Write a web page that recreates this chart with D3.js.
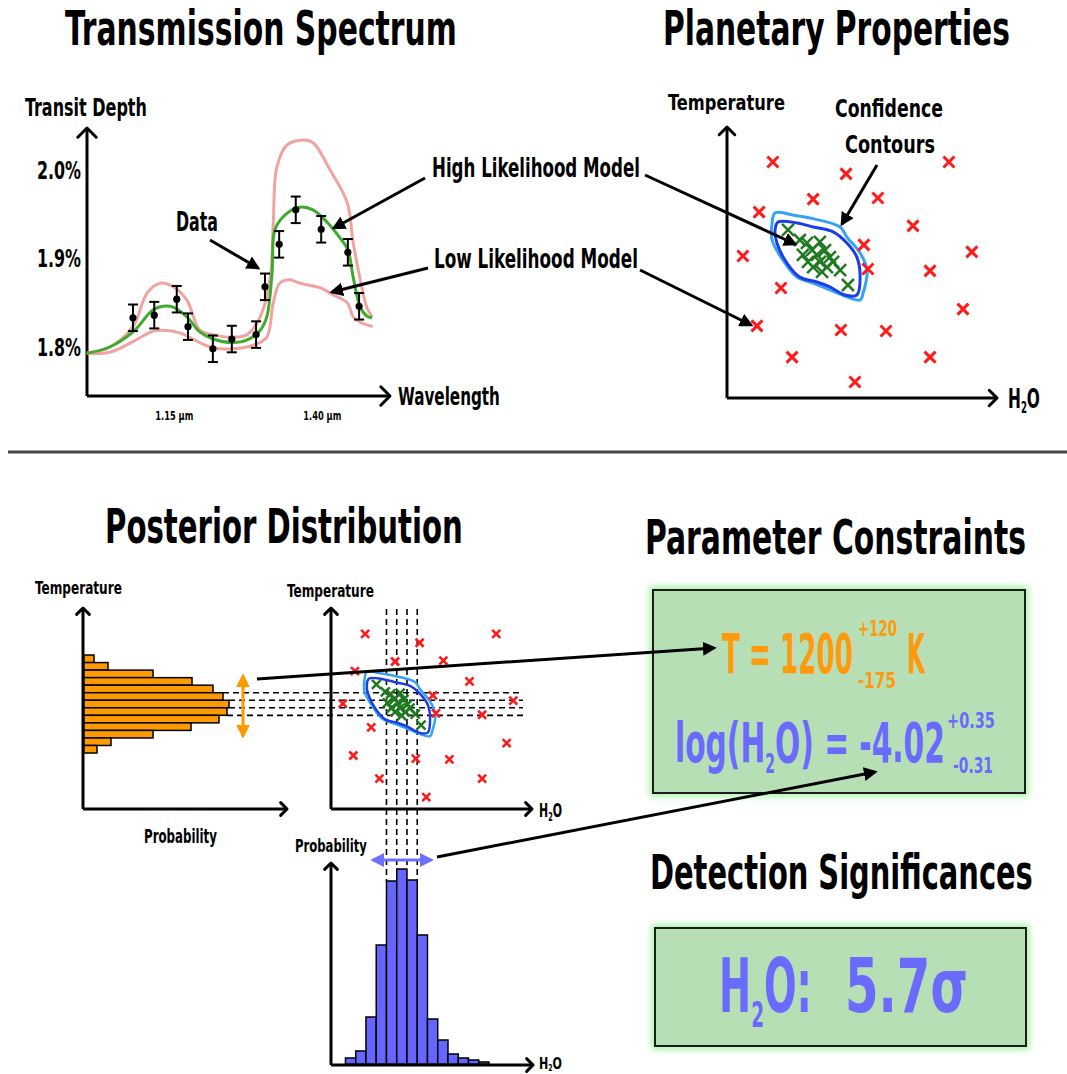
<!DOCTYPE html>
<html>
<head>
<meta charset="utf-8">
<script src="https://cdn.jsdelivr.net/npm/d3@7"></script>
<style>
  body { margin: 0; background: #fff; }
  svg { display: block; }
  text { font-family: "DejaVu Sans Condensed", "Liberation Sans Narrow", "DejaVu Sans", sans-serif; font-weight: bold; }
</style>
</head>
<body>
<svg id="fig" width="1067" height="1074"></svg>
<script>
// ---------- Transmission spectrum (wavelength in µm, transit depth in %) ----------
const obsWavelength = [1.081, 1.117, 1.155, 1.174, 1.216, 1.248, 1.289, 1.304, 1.328, 1.356, 1.399, 1.444, 1.463];
const obsDepth      = [1.833, 1.836, 1.854, 1.823, 1.798, 1.809, 1.814, 1.868, 1.916, 1.955, 1.933, 1.907, 1.846];
const obsError      = [0.015, 0.015, 0.015, 0.015, 0.015, 0.015, 0.015, 0.015, 0.015, 0.015, 0.015, 0.015, 0.015];

const highModelWavelength = [1.003, 1.042, 1.081, 1.115, 1.132, 1.149, 1.172, 1.194, 1.216, 1.250, 1.274, 1.296, 1.307, 1.316, 1.321, 1.341, 1.363, 1.385, 1.409, 1.431, 1.444, 1.453, 1.465, 1.476, 1.485];
const highModelDepth      = [1.793, 1.800, 1.817, 1.842, 1.846, 1.845, 1.834, 1.817, 1.809, 1.805, 1.808, 1.819, 1.834, 1.884, 1.933, 1.951, 1.958, 1.955, 1.941, 1.923, 1.910, 1.879, 1.845, 1.835, 1.833];

const lowModelAWavelength = [1.003, 1.042, 1.081, 1.105, 1.127, 1.149, 1.172, 1.194, 1.216, 1.250, 1.274, 1.296, 1.313, 1.318, 1.324, 1.341, 1.368, 1.385, 1.414, 1.443, 1.453, 1.465, 1.476, 1.485];
const lowModelADepth      = [1.793, 1.800, 1.823, 1.861, 1.872, 1.868, 1.853, 1.819, 1.814, 1.811, 1.814, 1.834, 1.879, 1.940, 2.003, 2.028, 2.034, 2.031, 2.000, 1.963, 1.918, 1.876, 1.845, 1.834];

const lowModelBWavelength = [1.003, 1.042, 1.081, 1.115, 1.132, 1.160, 1.194, 1.216, 1.250, 1.284, 1.307, 1.318, 1.329, 1.346, 1.363, 1.397, 1.419, 1.443, 1.453, 1.465, 1.486];
const lowModelBDepth      = [1.793, 1.794, 1.806, 1.818, 1.819, 1.816, 1.805, 1.799, 1.798, 1.802, 1.811, 1.850, 1.872, 1.876, 1.872, 1.867, 1.859, 1.850, 1.834, 1.828, 1.823];

const depthTicks = [1.8, 1.9, 2.0];
const wavelengthTicks = [1.15, 1.40];

// ---------- Parameter space (H2O, temperature in arbitrary 0-10 units) ----------
const priorH2O  = [1.70, 4.41, 8.22, 3.19, 5.59, 1.19, 6.89, 5.07, 9.07, 0.59, 5.22, 7.52, 2.00, 8.74, 1.11, 4.22, 5.89, 2.41, 7.52, 4.74];
const priorTemp = [8.71, 8.27, 8.71, 7.34, 7.38, 6.86, 6.35, 5.65, 5.39, 5.24, 4.76, 4.69, 4.06, 3.28, 2.66, 2.51, 2.47, 1.51, 1.51, 0.59];

const postH2O  = [2.26, 2.70, 2.96, 3.44, 3.15, 3.63, 2.81, 3.33, 3.81, 3.00, 3.44, 3.93, 3.19, 3.70, 4.19, 3.52, 4.48];
const postTemp = [6.20, 5.83, 5.72, 5.76, 5.46, 5.46, 5.28, 5.28, 5.20, 5.02, 5.02, 5.02, 4.83, 4.83, 4.72, 4.65, 4.17];

const outerContourH2O  = [1.78, 2.44, 3.07, 4.19, 4.44, 4.93, 5.19, 5.04, 4.93, 4.44, 3.81, 3.19, 2.59, 2.07, 1.67, 1.67];
const outerContourTemp = [6.83, 6.75, 6.64, 6.31, 5.94, 5.35, 4.72, 3.87, 3.62, 3.73, 3.99, 4.24, 4.46, 5.09, 5.83, 6.46];
const innerContourH2O  = [1.89, 2.59, 3.19, 3.93, 4.44, 4.81, 4.93, 4.81, 4.37, 3.81, 3.33, 2.70, 2.22, 1.85, 1.78];
const innerContourTemp = [6.49, 6.46, 6.31, 6.13, 5.72, 5.20, 4.46, 3.80, 3.80, 4.10, 4.28, 4.46, 4.98, 5.72, 6.20];

// ---------- Marginal posteriors ----------
const tempHist = [11, 25, 70, 109, 130, 140, 146, 144, 136, 108, 70, 28, 14]; // top bin = hottest
const tempBinTop = 7.66, tempBinWidth = 0.375;
const tempInterval = [3.63, 6.62];

const h2oHist = [7, 14, 48, 120, 184, 196, 185, 130, 46, 25, 11, 7, 5, 3];
const h2oBinStart = 0.72, h2oBinWidth = 0.51;
const h2oInterval = [2.09, 4.98];

// ---------- Retrieved constraints ----------
const tempValue = 1200, tempUpper = 120, tempLower = 175;
const logH2OValue = -4.02, logH2OUpper = 0.35, logH2OLower = 0.31;
const h2oSignificance = 5.7;

// ====================================================================
const svg = d3.select("#fig");
const defs = svg.append("defs");

function headMarker(id, color) {
  defs.append("marker").attr("id", id)
    .attr("viewBox", "0 0 10 10").attr("refX", 8).attr("refY", 5)
    .attr("markerWidth", 4.6).attr("markerHeight", 4.6)
    .attr("orient", "auto-start-reverse")
    .append("path").attr("d", "M0,0L10,5L0,10Z").attr("fill", color);
}
headMarker("headK", "#000");
headMarker("headO", "#ff9900");
headMarker("headB", "#6f6fff");

const glow = defs.append("filter").attr("id", "glow")
  .attr("x", "-10%").attr("y", "-20%").attr("width", "120%").attr("height", "140%");
glow.append("feGaussianBlur").attr("stdDeviation", 3.5);

// text squeezed horizontally to span x0..x1, baseline at `base`
function label(parent, s, x0, x1, base, size, fill) {
  return richLabel(parent, [{ t: s, size }], x0, x1, base, fill);
}

// same, built from pieces with their own size and baseline shift (sub/superscripts)
function richLabel(parent, parts, x0, x1, base, fill) {
  const t = parent.append("text").attr("fill", fill || "#000");
  let shift = 0;
  parts.forEach(p => {
    const dy = (p.dy || 0) - shift;
    shift = p.dy || 0;
    t.append("tspan").attr("font-size", p.size).attr("dy", dy).text(p.t);
  });
  const w = t.node().getComputedTextLength();
  t.attr("transform", `translate(${x0},${base}) scale(${(x1 - x0) / w},1)`);
  return t;
}

// squeeze axis tick labels to a fixed width around their anchor
function squeezeTicks(sel, width, size) {
  sel.attr("font-size", size).attr("fill", "#000").each(function () {
    const x = +this.getAttribute("x") || 0;
    const w = this.getComputedTextLength();
    d3.select(this).attr("x", 0).attr("transform", `translate(${x},0) scale(${width / w},1)`);
  });
}

// axis line ending in an open chevron
function axisArrow(g, x1, y1, x2, y2, arm, width) {
  g.append("line").attr("x1", x1).attr("y1", y1).attr("x2", x2).attr("y2", y2)
    .attr("stroke", "#000").attr("stroke-width", width);
  const a = Math.atan2(y2 - y1, x2 - x1);
  const p = (da) => [x2 - arm * Math.cos(a + da), y2 - arm * Math.sin(a + da)];
  const l = p(Math.PI / 4), r = p(-Math.PI / 4);
  g.append("path").attr("d", `M${l[0]},${l[1]}L${x2},${y2}L${r[0]},${r[1]}`)
    .attr("fill", "none").attr("stroke", "#000").attr("stroke-width", width)
    .attr("stroke-linecap", "round").attr("stroke-linejoin", "round");
}

function pointer(x1, y1, x2, y2) {
  svg.append("line").attr("x1", x1).attr("y1", y1).attr("x2", x2).attr("y2", y2)
    .attr("stroke", "#000").attr("stroke-width", 3)
    .attr("marker-end", "url(#headK)");
}

const crossPath = (s) => `M${-s},${-s}L${s},${s}M${-s},${s}L${s},${-s}`;

// ---------------- Titles ----------------
label(svg, "Transmission Spectrum", 65, 457, 45, 48);
label(svg, "Planetary Properties", 663, 1010, 45, 48);
label(svg, "Posterior Distribution", 105, 463, 543, 48);
label(svg, "Parameter Constraints", 645, 1026, 554, 48);
label(svg, "Detection Significances", 650, 1033, 889, 48);

svg.append("line").attr("x1", 8).attr("x2", 1067).attr("y1", 452).attr("y2", 452)
  .attr("stroke", "#444").attr("stroke-width", 3);

// ---------------- Transmission spectrum panel ----------------
const spec = svg.append("g");
const xW = d3.scaleLinear([1.0, 1.5], [85, 381]);
const yD = d3.scaleLinear([1.8, 2.0], [347, 170]);

axisArrow(spec, 87, 396, 87, 128, 13, 3);
axisArrow(spec, 87, 396, 390, 396, 13, 3);

const yAx = spec.append("g").attr("transform", "translate(87,0)")
  .call(d3.axisLeft(yD).tickValues(depthTicks).tickSize(0).tickPadding(6)
    .tickFormat(d => d.toFixed(1) + "%"));
yAx.select(".domain").remove();
yAx.attr("font-family", null).attr("font-size", null);
squeezeTicks(yAx.selectAll("text"), 44, 25);

const xAx = spec.append("g").attr("transform", "translate(0,396)")
  .call(d3.axisBottom(xW).tickValues(wavelengthTicks).tickSize(0).tickPadding(15)
    .tickFormat(d => d.toFixed(2) + " µm"));
xAx.select(".domain").remove();
xAx.attr("font-family", null).attr("font-size", null);
squeezeTicks(xAx.selectAll("text"), 38, 13);

label(spec, "Transit Depth", 25, 147, 116, 24);
label(spec, "Wavelength", 398, 500, 405, 25);

const specLine = d3.line().x(d => xW(d[0])).y(d => yD(d[1])).curve(d3.curveCatmullRom.alpha(0.5));
spec.append("path").datum(d3.zip(lowModelAWavelength, lowModelADepth)).attr("d", specLine)
  .attr("fill", "none").attr("stroke", "#f0a4a0").attr("stroke-width", 3);
spec.append("path").datum(d3.zip(lowModelBWavelength, lowModelBDepth)).attr("d", specLine)
  .attr("fill", "none").attr("stroke", "#f0a4a0").attr("stroke-width", 3);
spec.append("path").datum(d3.zip(highModelWavelength, highModelDepth)).attr("d", specLine)
  .attr("fill", "none").attr("stroke", "#3faa2c").attr("stroke-width", 3);

const obs = spec.selectAll("g.obs").data(d3.range(obsWavelength.length)).join("g").attr("class", "obs");
obs.append("line")
  .attr("x1", i => xW(obsWavelength[i])).attr("x2", i => xW(obsWavelength[i]))
  .attr("y1", i => yD(obsDepth[i] - obsError[i])).attr("y2", i => yD(obsDepth[i] + obsError[i]))
  .attr("stroke", "#000").attr("stroke-width", 2);
[-1, 1].forEach(sgn => {
  obs.append("line")
    .attr("x1", i => xW(obsWavelength[i]) - 5).attr("x2", i => xW(obsWavelength[i]) + 5)
    .attr("y1", i => yD(obsDepth[i] + sgn * obsError[i])).attr("y2", i => yD(obsDepth[i] + sgn * obsError[i]))
    .attr("stroke", "#000").attr("stroke-width", 2);
});
obs.append("circle").attr("cx", i => xW(obsWavelength[i])).attr("cy", i => yD(obsDepth[i]))
  .attr("r", 3.6).attr("fill", "#000");

label(svg, "Data", 176, 218, 231, 27);
pointer(210, 240, 258, 268);
label(svg, "High Likelihood Model", 432, 640, 177, 27);
pointer(425, 178, 334, 228);
label(svg, "Low Likelihood Model", 434, 638, 268, 27);
pointer(428, 268, 332, 292);

// ---------------- Parameter space scatter ----------------
function scatterPanel(xs, ys, opt) {
  const g = svg.append("g");
  const [x0] = xs.range(), [y0] = ys.range();
  axisArrow(g, x0, y0, x0, ys.range()[1], opt.arm, 3);
  axisArrow(g, x0, y0, xs.range()[1], y0, opt.arm, 3);
  const line = d3.line().x(d => xs(d[0])).y(d => ys(d[1])).curve(d3.curveCatmullRomClosed.alpha(0.5));
  g.append("path").datum(d3.zip(outerContourH2O, outerContourTemp)).attr("d", line)
    .attr("fill", "none").attr("stroke", "#35a2f2").attr("stroke-width", opt.cw);
  g.append("path").datum(d3.zip(innerContourH2O, innerContourTemp)).attr("d", line)
    .attr("fill", "none").attr("stroke", "#1c3ee6").attr("stroke-width", opt.cw);
  g.selectAll("path.prior").data(d3.zip(priorH2O, priorTemp)).join("path").attr("class", "prior")
    .attr("transform", d => `translate(${xs(d[0])},${ys(d[1])})`)
    .attr("d", crossPath(opt.rs)).attr("stroke", "#ff1a1a").attr("stroke-width", opt.rw).attr("fill", "none");
  g.selectAll("path.post").data(d3.zip(postH2O, postTemp)).join("path").attr("class", "post")
    .attr("transform", d => `translate(${xs(d[0])},${ys(d[1])})`)
    .attr("d", crossPath(opt.gs)).attr("stroke", "#1f7a1f").attr("stroke-width", opt.gw).attr("fill", "none");
  return g;
}

const h2oParts = (big, small, drop) => [
  { t: "H", size: big }, { t: "2", size: small, dy: drop }, { t: "O", size: big }];

const xTR = d3.scaleLinear([0, 10], [727, 997]);
const yTR = d3.scaleLinear([0, 10], [398, 127]);
const tr = scatterPanel(xTR, yTR, { arm: 11, cw: 3, rs: 5.5, rw: 3, gs: 6, gw: 2.5 });
label(tr, "Temperature", 668, 785, 110, 22);
label(tr, "Confidence", 835, 943, 117, 25);
label(tr, "Contours", 845, 935, 153, 25);
richLabel(tr, h2oParts(27, 15, 5), 1008, 1040, 408);
pointer(877, 165, 842, 224);
pointer(645, 175, 795, 244);
pointer(640, 270, 751, 325);

// ---------------- Posterior distribution ----------------
const xM = d3.scaleLinear([0, 10], [331, 532]);
const yM = d3.scaleLinear([0, 10], [809, 608]);

// dashed guides (drawn first so marks sit on top)
const guides = svg.append("g").attr("stroke", "#000").attr("stroke-width", 1.6).attr("stroke-dasharray", "6,4");

const xP = d3.scaleLinear([0, 204], [83, 287]);
const yPr = d3.scaleLinear([0, 202], [1065, 863]);

[5, 6, 7, 8].forEach(i => {
  const t = tempBinTop - i * tempBinWidth;
  const reach = Math.max(tempHist[i - 1], tempHist[i]);
  guides.append("line").attr("x1", xP(reach)).attr("x2", 523).attr("y1", yM(t)).attr("y2", yM(t));
});
[4, 5, 6, 7].forEach(i => {
  const h = h2oBinStart + i * h2oBinWidth;
  const reach = Math.max(h2oHist[i - 1], h2oHist[i]);
  guides.append("line").attr("x1", xM(h)).attr("x2", xM(h)).attr("y1", 609).attr("y2", yPr(reach));
});

const mid = scatterPanel(xM, yM, { arm: 9, cw: 2.5, rs: 4, rw: 2.6, gs: 4.5, gw: 2.5 });
label(mid, "Temperature", 287, 374, 597, 18);
richLabel(mid, h2oParts(20, 12, 4), 539, 562, 817);

// temperature marginal (horizontal bars)
const left = svg.append("g");
axisArrow(left, 83, 809, 83, 608, 9, 3);
axisArrow(left, 83, 809, 287, 809, 9, 3);
left.selectAll("rect").data(tempHist).join("rect")
  .attr("x", xP(0) + 1)
  .attr("y", (d, i) => yM(tempBinTop - i * tempBinWidth))
  .attr("width", d => xP(d) - xP(0) - 1)
  .attr("height", yM(0) - yM(tempBinWidth))
  .attr("fill", "#ff9900").attr("stroke", "#000").attr("stroke-width", 1.5);
label(left, "Temperature", 35, 122, 594, 18);
label(left, "Probability", 144, 217, 843, 20);
left.append("line").attr("x1", 243).attr("x2", 243)
  .attr("y1", yM(tempInterval[0])).attr("y2", yM(tempInterval[1]))
  .attr("stroke", "#ff9900").attr("stroke-width", 3)
  .attr("marker-start", "url(#headO)").attr("marker-end", "url(#headO)");

// H2O marginal (vertical bars)
const bottom = svg.append("g");
axisArrow(bottom, 331, 1065, 331, 863, 9, 3);
axisArrow(bottom, 331, 1065, 533, 1065, 9, 3);
bottom.selectAll("rect").data(h2oHist).join("rect")
  .attr("x", (d, i) => xM(h2oBinStart + i * h2oBinWidth))
  .attr("y", d => yPr(d))
  .attr("width", xM(h2oBinWidth) - xM(0))
  .attr("height", d => yPr(0) - yPr(d) - 1)
  .attr("fill", "#6666ff").attr("stroke", "#000").attr("stroke-width", 1.5);
label(bottom, "Probability", 295, 367, 852, 18);
richLabel(bottom, h2oParts(16, 9, 2), 539, 562, 1069);
bottom.append("line").attr("y1", 860).attr("y2", 860)
  .attr("x1", xM(h2oInterval[0])).attr("x2", xM(h2oInterval[1]))
  .attr("stroke", "#6f6fff").attr("stroke-width", 3)
  .attr("marker-start", "url(#headB)").attr("marker-end", "url(#headB)");

// ---------------- Result boxes ----------------
function resultBox(x, y, w, h) {
  svg.append("rect").attr("x", x).attr("y", y).attr("width", w).attr("height", h)
    .attr("fill", "none").attr("stroke", "#90ee90").attr("stroke-width", 6).attr("filter", "url(#glow)");
  svg.append("rect").attr("x", x).attr("y", y).attr("width", w).attr("height", h)
    .attr("fill", "#b6dfb6").attr("stroke", "#1c1c1c").attr("stroke-width", 2);
}
resultBox(653, 590, 372, 203);
resultBox(655, 928, 371, 118);

const orange = "#ff9a0e", violet = "#6a6aff";
label(svg, `T = ${tempValue}`, 722, 853, 673, 55, orange);
label(svg, `+${tempUpper}`, 858, 897, 636, 22, orange);
label(svg, `-${tempLower}`, 858, 896, 688, 22, orange);
label(svg, "K", 907, 925, 673, 55, orange);

richLabel(svg, [
  { t: "log(H", size: 55 }, { t: "2", size: 26, dy: 11 }, { t: `O) = ${logH2OValue.toFixed(2)}`, size: 55 }
], 675, 945, 762, violet);
label(svg, `+${logH2OUpper.toFixed(2)}`, 947, 995, 728, 22, violet);
label(svg, `-${logH2OLower.toFixed(2)}`, 953, 993, 773, 22, violet);

richLabel(svg, [
  { t: "H", size: 75 }, { t: "2", size: 36, dy: 15 }, { t: "O:", size: 75 }
], 719, 812, 1012, violet);
label(svg, `${h2oSignificance.toFixed(1)}σ`, 845, 968, 1012, 75, violet);

// connecting arrows from marginals to results
pointer(257, 679, 714, 648);
pointer(437, 857, 875, 772);
</script>
</body>
</html>
